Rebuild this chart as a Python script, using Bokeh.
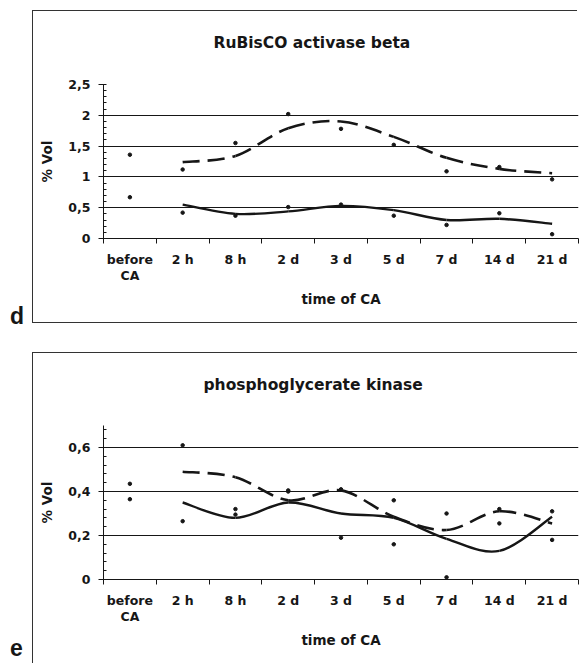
from bokeh.plotting import figure
from bokeh.layouts import column, row
from bokeh.models import Range1d, FixedTicker, CustomJSTickFormatter, ColumnDataSource, Div
from bokeh.embed import file_html
from bokeh.resources import INLINE

# ---- data -------------------------------------------------------------
categories = ["before\nCA", "2 h", "8 h", "2 d", "3 d", "5 d", "7 d", "14 d", "21 d"]

# RuBisCO activase beta (% Vol), two spots
rubisco_a = [1.36, 1.12, 1.55, 2.02, 1.78, 1.52, 1.09, 1.16, 0.96]
rubisco_b = [0.67, 0.42, 0.37, 0.51, 0.55, 0.37, 0.22, 0.41, 0.07]
# trend lines, from "2 h" onwards
rubisco_trend_a = [1.24, 1.34, 1.79, 1.90, 1.65, 1.31, 1.13, 1.06]
rubisco_trend_b = [0.55, 0.40, 0.44, 0.53, 0.46, 0.30, 0.32, 0.24]

# phosphoglycerate kinase (% Vol), two spots
pgk_a = [0.365, 0.61, 0.32, 0.40, 0.41, 0.16, 0.30, 0.32, 0.18]
pgk_b = [0.435, 0.265, 0.295, 0.405, 0.19, 0.36, 0.01, 0.255, 0.31]
pgk_trend_a = [0.49, 0.465, 0.36, 0.405, 0.285, 0.225, 0.31, 0.255]
pgk_trend_b = [0.35, 0.28, 0.35, 0.30, 0.28, 0.185, 0.13, 0.285]

# ---- styling ----------------------------------------------------------
INK = "#161616"
FONT = "DejaVu Sans"
LEFT_W = 32          # strip holding the panel letter
MAIN_W = 587 - LEFT_W


def bezier_source(xs, ys):
    """Smooth curve through the points (Catmull-Rom as cubic Bezier segments)."""
    n = len(xs)
    d = dict(x0=[], y0=[], x1=[], y1=[], cx0=[], cy0=[], cx1=[], cy1=[])
    for i in range(n - 1):
        xa, ya = (xs[i - 1], ys[i - 1]) if i > 0 else (xs[i], ys[i])
        xb, yb = xs[i], ys[i]
        xc, yc = xs[i + 1], ys[i + 1]
        xd, yd = (xs[i + 2], ys[i + 2]) if i + 2 < n else (xc, yc)
        d["x0"].append(xb); d["y0"].append(yb)
        d["x1"].append(xc); d["y1"].append(yc)
        d["cx0"].append(xb + (xc - xa) / 6); d["cy0"].append(yb + (yc - ya) / 6)
        d["cx1"].append(xc - (xd - xb) / 6); d["cy1"].append(yc - (yd - yb) / 6)
    return ColumnDataSource(d)


def letter_strip(letter, height, pad_top, line_h):
    html = (f'<div style="padding-top:{pad_top}px;padding-left:10px;'
            f'font-family:\'Liberation Sans\';font-weight:bold;font-size:23px;'
            f'line-height:{line_h}px;color:{INK};">{letter}</div>')
    return Div(text=html, width=LEFT_W, height=height,
               styles={"background": "white", "overflow": "hidden", "margin": "0"})


def panel(title, a, b, trend_a, trend_b, y_end, majors, minors, grid,
          height, top, bottom, title_offset, title_standoff, box_css):
    p = figure(width=MAIN_W, height=height, output_backend="svg", toolbar_location=None,
               x_range=Range1d(0, len(categories)), y_range=Range1d(0, y_end),
               min_border_left=103 - LEFT_W, min_border_right=9,
               min_border_top=top, min_border_bottom=bottom, title=title)
    p.outline_line_color = None
    p.border_fill_color = None
    p.background_fill_color = None
    # white page with the panel's frame lines behind the transparent canvas
    p.styles = {"background": box_css}

    p.title.align = "left"
    p.title.offset = title_offset
    p.title.vertical_align = "middle"
    p.title.standoff = title_standoff
    p.title.text_font = FONT
    p.title.text_font_style = "bold"
    p.title.text_font_size = "15.5px"
    p.title.text_color = INK

    # x axis: labels at category centres, ticks on the category borders
    xs = [i + 0.5 for i in range(len(categories))]
    xa = p.xaxis[0]
    xa.ticker = FixedTicker(ticks=xs, minor_ticks=list(range(len(categories) + 1)))
    xa.formatter = CustomJSTickFormatter(args=dict(labels=categories),
                                         code="return labels[Math.floor(tick)];")
    xa.major_tick_in = 0
    xa.major_tick_out = 0
    xa.minor_tick_line_color = INK
    xa.minor_tick_in = 0
    xa.minor_tick_out = 5
    xa.major_label_standoff = 8
    xa.major_label_text_line_height = 1.1
    xa.axis_label = "time of CA"
    xa.axis_label_standoff = 5

    # y axis
    ya = p.yaxis[0]
    ya.ticker = FixedTicker(ticks=majors, minor_ticks=minors)
    ya.formatter = CustomJSTickFormatter(
        code="return (Math.round(tick*10)/10).toString().replace('.', ',');")
    ya.major_tick_in = 2
    ya.major_tick_out = 5
    ya.minor_tick_in = 3
    ya.minor_tick_out = 0
    ya.minor_tick_line_color = INK
    ya.major_label_standoff = 8
    ya.axis_label = "% Vol"
    ya.axis_label_standoff = 10

    for ax in (xa, ya):
        ax.axis_line_color = INK
        ax.major_tick_line_color = INK if ax is ya else None
        ax.major_label_text_font = FONT
        ax.major_label_text_font_style = "bold"
        ax.major_label_text_font_size = "12.5px"
        ax.major_label_text_color = INK
        ax.axis_label_text_font = FONT
        ax.axis_label_text_font_style = "bold"
        ax.axis_label_text_font_size = "13.5px"
        ax.axis_label_text_color = INK

    p.xgrid.visible = False
    p.ygrid.ticker = FixedTicker(ticks=grid)
    p.ygrid.grid_line_color = INK
    p.ygrid.grid_line_width = 1

    # trend lines
    p.bezier(x0="x0", y0="y0", x1="x1", y1="y1", cx0="cx0", cy0="cy0",
             cx1="cx1", cy1="cy1", source=bezier_source(xs[1:], trend_a),
             line_color=INK, line_width=2.6, line_dash="17 8")
    p.bezier(x0="x0", y0="y0", x1="x1", y1="y1", cx0="cx0", cy0="cy0",
             cx1="cx1", cy1="cy1", source=bezier_source(xs[1:], trend_b),
             line_color=INK, line_width=2.4)

    # measured values
    p.scatter(xs, a, size=3.5, color=INK)
    p.scatter(xs, b, size=3.5, color=INK)
    return p


def frame_lines(top_y, bottom_y, height):
    c = "#333333"
    w = MAIN_W - 10
    layers = [f"linear-gradient({c},{c}) 0px {top_y}px / 1px {min(bottom_y, height) - top_y + 1}px no-repeat",
              f"linear-gradient({c},{c}) 0px {top_y}px / {w}px 1px no-repeat"]
    if bottom_y < height:
        layers.append(f"linear-gradient({c},{c}) 0px {bottom_y}px / {w}px 1px no-repeat")
    return ", ".join(layers) + ", white"


p1 = panel("RuBisCO activase beta", rubisco_a, rubisco_b,
           rubisco_trend_a, rubisco_trend_b, 2.5,
           [0, 0.5, 1, 1.5, 2, 2.5], [round(0.1 * k, 2) for k in range(26)],
           [0.5, 1, 1.5, 2], height=330, top=84, bottom=92,
           title_offset=110, title_standoff=64, box_css=frame_lines(10, 322, 330))

p2 = panel("phosphoglycerate kinase", pgk_a, pgk_b,
           pgk_trend_a, pgk_trend_b, 0.7,
           [0, 0.2, 0.4, 0.6], [round(0.04 * k, 2) for k in range(18)],
           [0.2, 0.4, 0.6], height=333, top=95, bottom=84,
           title_offset=100, title_standoff=62, box_css=frame_lines(22, 400, 333))

layout = column(row(letter_strip("d", 330, 306, 20), p1, spacing=0),
                row(letter_strip("e", 333, 309, 19), p2, spacing=0),
                spacing=0)
open("out.html", "w").write(file_html(layout, INLINE))
